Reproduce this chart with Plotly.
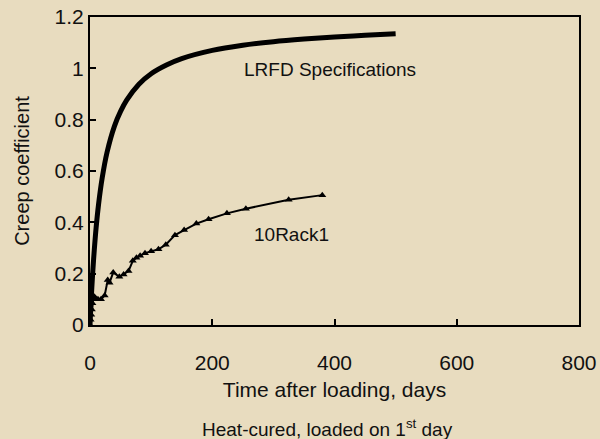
import plotly.graph_objects as go

# LRFD Specifications curve
lrfd_t = [0, 1, 2, 3, 5, 7, 10, 14, 20, 28, 40, 50, 60, 80, 100, 125, 150, 200, 250, 300, 350, 400, 450, 500]
lrfd_v = [0, 0.053, 0.102, 0.146, 0.225, 0.292, 0.379, 0.470, 0.574, 0.674, 0.775, 0.832, 0.876, 0.938,
          0.979, 1.013, 1.038, 1.070, 1.090, 1.104, 1.114, 1.122, 1.129, 1.135]

rack_t = [0, 1, 2, 3, 4, 5, 7, 9, 13, 18, 24, 29, 32, 38, 48, 55, 63, 70, 76, 82, 90, 100, 112, 124,
          139, 154, 174, 194, 224, 255, 325, 380]
rack_v = [0, 0.02, 0.04, 0.06, 0.085, 0.10, 0.11, 0.105, 0.10, 0.10, 0.115, 0.175, 0.165, 0.205, 0.188,
          0.197, 0.21, 0.25, 0.262, 0.27, 0.28, 0.287, 0.295, 0.313, 0.35, 0.37, 0.395, 0.412, 0.435,
          0.453, 0.488, 0.506]

x_ticks = [0, 200, 400, 600, 800]
y_ticks = [0, 0.2, 0.4, 0.6, 0.8, 1.0, 1.2]
y_tick_text = ["0", "0.2", "0.4", "0.6", "0.8", "1", "1.2"]

bg = "#E8DCBF"
font = "Liberation Sans, Arial, sans-serif"

fig = go.Figure()
fig.add_trace(go.Scatter(x=lrfd_t, y=lrfd_v, mode="lines", line=dict(color="black", width=5),
                         line_shape="spline", showlegend=False))
fig.add_trace(go.Scatter(x=rack_t, y=rack_v, mode="lines+markers", line=dict(color="black", width=2),
                         marker=dict(symbol="triangle-up", size=7, color="black"), showlegend=False))

fig.add_annotation(x=392, y=0.997, xref="x", yref="y", text="LRFD Specifications", showarrow=False,
                   font=dict(size=19, color="#111"))
fig.add_annotation(x=330, y=0.351, xref="x", yref="y", text="10Rack1", showarrow=False,
                   font=dict(size=19, color="#111"))
fig.add_annotation(x=0.485, y=-0.334, xref="paper", yref="paper", text="Heat-cured, loaded on 1<sup>st</sup> day",
                   showarrow=False, yanchor="middle", font=dict(size=19, color="#111"))

fig.update_layout(
    width=600, height=439,
    margin=dict(l=90, r=21, t=17, b=114),
    paper_bgcolor=bg, plot_bgcolor=bg,
    font=dict(family=font, size=20, color="#111"),
)
fig.update_xaxes(range=[0, 800], tickvals=x_ticks, ticks="inside", ticklen=6, tickwidth=2, tickcolor="black",
                 showline=True, linecolor="black", linewidth=2, mirror=True, showgrid=False, zeroline=False,
                 ticklabelstandoff=18, automargin=False, tickfont=dict(size=21),
                 title=dict(text="Time after loading, days", font=dict(size=21), standoff=9))
fig.update_yaxes(range=[0, 1.2], tickvals=y_ticks, ticktext=y_tick_text, ticks="inside", ticklen=6, tickwidth=2,
                 tickcolor="black", showline=True, linecolor="black", linewidth=2, mirror=True, showgrid=False,
                 zeroline=False, automargin=False, tickfont=dict(size=21), ticksuffix="\u00a0",
                 title=dict(text="Creep coefficient", font=dict(size=20), standoff=20))

fig.write_html("out.html")
